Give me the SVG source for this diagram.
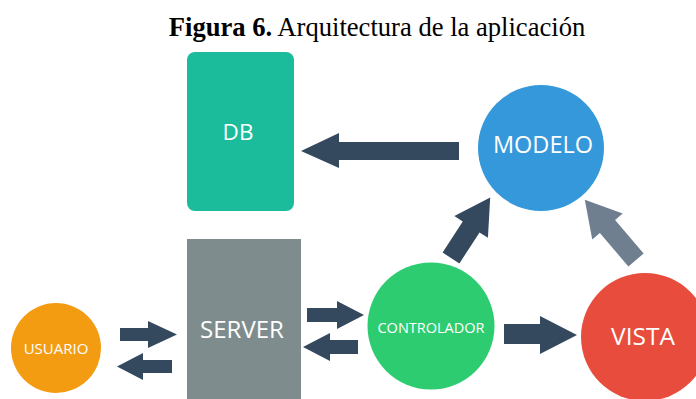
<svg xmlns="http://www.w3.org/2000/svg" width="696" height="399" viewBox="0 0 696 399">
  <style>
    .lbl { font-family: "Open Sans", "Liberation Sans", sans-serif; fill: #ffffff; text-anchor: middle; }
    .dark { fill: #34495e; }
    .grey { fill: #6f7f8f; }
    .title { font-family: "Liberation Serif", "Times New Roman", serif; font-size: 26.6px; fill: #000000; text-anchor: middle; }
  </style>
  <rect width="696" height="399" fill="#ffffff"/>

  <text class="title" x="377" y="36"><tspan font-weight="bold">Figura 6.</tspan> Arquitectura de la aplicación</text>

  <g id="db">
    <rect x="187" y="52" width="107" height="159" rx="8" fill="#1abc9c"/>
    <text class="lbl" x="238" y="140" font-size="22.5">DB</text>
  </g>
  <g id="server">
    <rect x="187" y="239" width="114" height="170" fill="#7f8c8d"/>
    <text class="lbl" x="242" y="338" font-size="24">SERVER</text>
  </g>
  <g id="usuario">
    <circle cx="56" cy="348" r="45" fill="#f39c12"/>
    <text class="lbl" x="56" y="354" font-size="15">USUARIO</text>
  </g>
  <g id="controlador">
    <circle cx="431" cy="326" r="63.5" fill="#2ecc71"/>
    <text class="lbl" x="431" y="333" font-size="14.5">CONTROLADOR</text>
  </g>
  <g id="modelo">
    <circle cx="541" cy="148" r="63" fill="#3498db"/>
    <text class="lbl" x="543" y="153" font-size="23.5">MODELO</text>
  </g>
  <g id="vista">
    <circle cx="645" cy="337" r="64" fill="#e74c3c"/>
    <text class="lbl" x="643" y="345" font-size="24.5">VISTA</text>
  </g>

  <g id="connectors">
    <polygon class="dark" points="120,328 148,328 148,321 177,334.5 148,348 148,341 120,341"/>
    <polygon class="dark" points="172,360 143,360 143,353 117,366.5 143,380 143,373 172,373"/>
    <polygon class="dark" points="307,308 337,308 337,301 364,315 337,329 337,322 307,322"/>
    <polygon class="dark" points="358,340 330,340 330,333 303,347 330,361 330,354 358,354"/>
    <polygon class="dark" points="504,324 540,324 540,316 577,335 540,354 540,344 504,344"/>
    <polygon class="dark" points="459,142 339,142 339,133 301,151 339,168 339,160 459,160"/>
    <polygon class="dark" transform="translate(451 258) rotate(-57)" points="0,-10 37,-10 37,-20 72,0 37,20 37,10 0,10"/>
    <polygon class="grey" transform="translate(636 260) rotate(-130.4)" points="0,-10 44,-10 44,-20 79,0 44,20 44,10 0,10"/>
  </g>
</svg>
